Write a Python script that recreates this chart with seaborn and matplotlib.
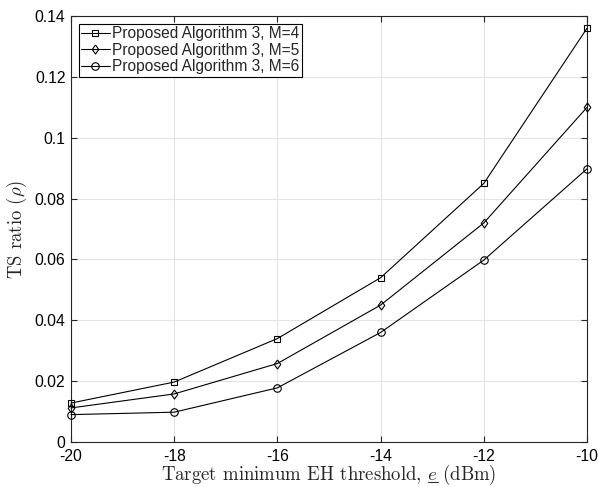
import matplotlib
matplotlib.use("Agg")
import matplotlib.pyplot as plt
from matplotlib.lines import Line2D
import seaborn as sns
import pandas as pd

x_vals = [-20, -18, -16, -14, -12, -10]
m4 = [0.0128, 0.0197, 0.0340, 0.0540, 0.0850, 0.1360]
m5 = [0.0112, 0.0158, 0.0258, 0.0450, 0.0720, 0.1100]
m6 = [0.0090, 0.0098, 0.0178, 0.0360, 0.0598, 0.0898]
labels = ["Proposed Algorithm 3, M=4", "Proposed Algorithm 3, M=5", "Proposed Algorithm 3, M=6"]

diamond = [(0, 1), (0.72, 0), (0, -1), (-0.72, 0), (0, 1)]
markers = ["s", diamond, "o"]
msizes = [4.4, 6.5, 5.4]

sns.set_theme(style="ticks")
plt.rcParams["font.family"] = ["Liberation Sans", "DejaVu Sans"]
plt.rcParams["mathtext.fontset"] = "cm"

fig = plt.figure(figsize=(5.99, 4.87), dpi=100)
ax = fig.add_axes([0.1185, 0.0924, 0.8615, 0.8746])

for ys, lab, mk, ms in zip([m4, m5, m6], labels, markers, msizes):
    df = pd.DataFrame({"x": x_vals, "y": ys})
    sns.lineplot(data=df, x="x", y="y", ax=ax, color="black", lw=0.8,
                 marker=mk, markersize=ms,
                 markerfacecolor="none", markeredgecolor="black",
                 markeredgewidth=0.8, label=lab, clip_on=False, zorder=3)

ax.set_xlim(-20, -10)
ax.set_ylim(0, 0.14)
ax.set_xticks([-20, -18, -16, -14, -12, -10])
ax.set_xticklabels(["-20", "-18", "-16", "-14", "-12", "-10"])
ax.set_yticks([0, 0.02, 0.04, 0.06, 0.08, 0.1, 0.12, 0.14])
ax.set_yticklabels(["0", "0.02", "0.04", "0.06", "0.08", "0.1", "0.12", "0.14"])
ax.grid(True, color="#e3e3e3", lw=0.8)
ax.set_axisbelow(True)
for s in ax.spines.values():
    s.set_visible(True)
    s.set_color("#262626")
    s.set_linewidth(0.8)
ax.tick_params(direction="in", length=4, width=0.8, labelsize=11.3, colors="#262626",
               top=True, right=True, labelcolor="black")
ax.tick_params(axis="x", pad=5)
ax.tick_params(axis="y", pad=4)

xlab_prefix = "Target minimum EH threshold, "
xlab_e = "$e$"
xlab_suffix = " (dBm)"
ax.set_xlabel(xlab_prefix + xlab_e + xlab_suffix,
              family="cmr10", fontsize=13.5, labelpad=-1, color="#262626")
ax.set_ylabel(r"TS ratio ($\rho$)", family="cmr10", fontsize=13.5, labelpad=4,
              color="#262626")

leg = ax.legend(loc="upper left", fontsize=11.2, frameon=True, fancybox=False,
                edgecolor="black", framealpha=1, handlelength=1.85,
                handletextpad=0.15, borderpad=0.15, labelspacing=0.1,
                borderaxespad=0.5)
leg.get_frame().set_linewidth(0.8)

# underline the italic e in the x label
fig.canvas.draw()
r = fig.canvas.get_renderer()
lab = ax.xaxis.label
prop = lab.get_fontproperties()
bb = lab.get_window_extent(r)
w_full, h_full, d_full = r.get_text_width_height_descent(lab.get_text(), prop, ismath=True)
w_pre, _, _ = r.get_text_width_height_descent(xlab_prefix + xlab_e, prop, ismath=True)
w_e, _, _ = r.get_text_width_height_descent(xlab_e, prop, ismath=True)
left = (bb.x0 + bb.x1) / 2 - w_full / 2
x_end = left + w_pre
x_start = x_end - w_e
y_line = bb.y0 + d_full - 2.5
W, H = fig.bbox.width, fig.bbox.height
fig.add_artist(Line2D([x_start / W, x_end / W], [y_line / H, y_line / H],
                      transform=fig.transFigure, color="#333333", lw=0.8))

fig.savefig("out.png", dpi=100)
